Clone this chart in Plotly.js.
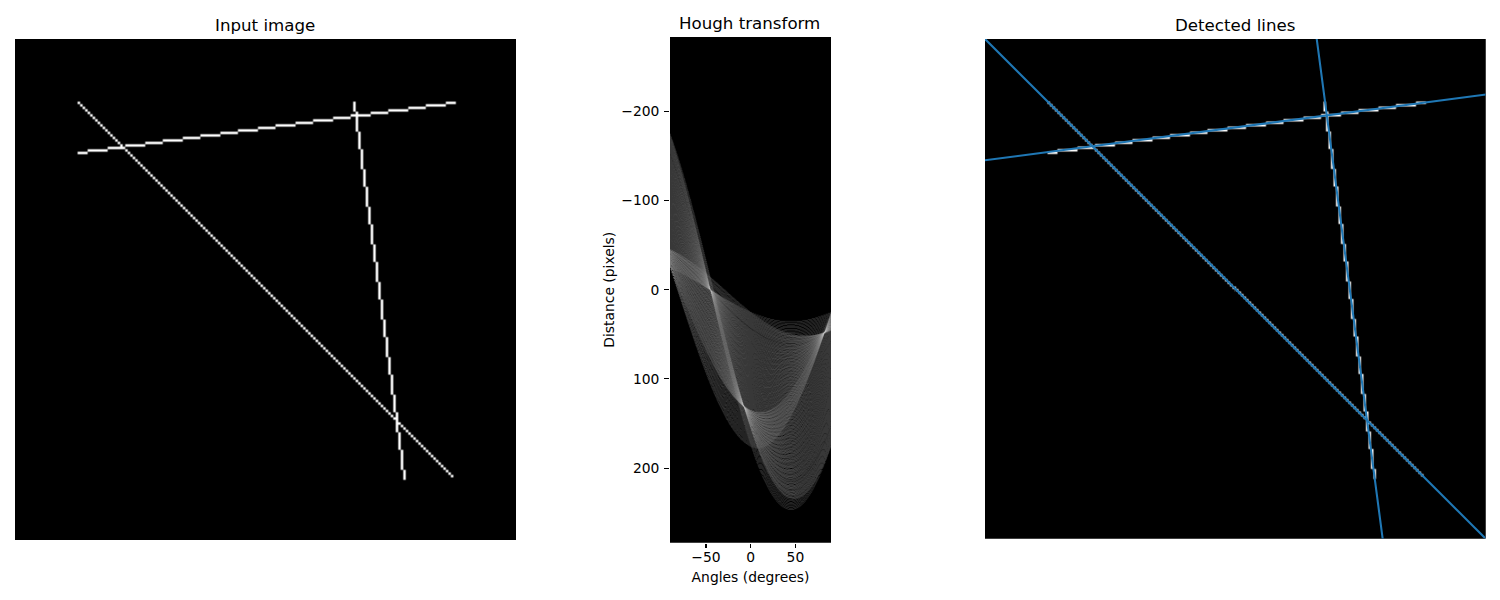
<!DOCTYPE html>
<html><head><meta charset="utf-8">
<script src="https://cdn.plot.ly/plotly-3.0.1.min.js"></script>
<style>html,body{margin:0;padding:0;background:#fff}</style></head>
<body><div id="chart" style="width:1500px;height:600px"></div>
<script>
// Values: segment endpoints of the input image (row, col)
const segR0 = [25, 45, 25];
const segC0 = [25, 25, 135];
const segR1 = [174, 25, 175];
const segC1 = [174, 175, 155];
const imageSize = 200;
// Detected lines (normal angle in degrees, distance in pixels)
const peakAngles = [-45, -7.5, 82.5];
const peakDists = [0, 131, 47.6];
const xTicks = [-50, 0, 50];
const yTicks = [-200, -100, 0, 100, 200];
const titles = ['Input image', 'Hough transform', 'Detected lines'];

// Rasterise the segments to the input image
function rasterLine(r, c, r1, c1, put) {
  let dx = Math.abs(c1 - c), dy = Math.abs(r1 - r);
  let sx = c1 > c ? 1 : -1, sy = r1 > r ? 1 : -1, steep = false;
  if (dy > dx) { steep = true; [c, r] = [r, c]; [dx, dy] = [dy, dx]; [sx, sy] = [sy, sx]; }
  let d = 2 * dy - dx;
  for (let i = 0; i < dx; i++) {
    if (steep) put(c, r); else put(r, c);
    while (d >= 0) { r += sy; d -= 2 * dx; }
    c += sx; d += 2 * dy;
  }
  put(r1, c1);
}
const img = Array.from({length: imageSize}, () => new Array(imageSize).fill(0));
segR0.forEach((_, i) => rasterLine(segR0[i], segC0[i], segR1[i], segC1[i], (r, c) => { img[r][c] = 255; }));

// The Hough panel is derived from the pixels above by the Hough transform itself
const nTheta = 360, offset = Math.ceil(Math.hypot(imageSize, imageSize)), nRho = 2 * offset + 1;
const acc = Array.from({length: nRho}, () => new Float64Array(nTheta));
const cosT = [], sinT = [];
for (let j = 0; j < nTheta; j++) { const t = (-90 + j * 0.5) * Math.PI / 180; cosT.push(Math.cos(t)); sinT.push(Math.sin(t)); }
for (let y = 0; y < imageSize; y++) for (let x = 0; x < imageSize; x++) if (img[y][x]) {
  for (let j = 0; j < nTheta; j++) acc[Math.round(cosT[j] * x + sinT[j] * y) + offset][j] += 1;
}
let logMax = 0;
const logH = acc.map(row => Array.from(row, v => { const l = Math.log(1 + v); if (l > logMax) logMax = l; return l; }));

// Hann-kernel display resampling, the way the reference's image was drawn.
// srcFrom/srcTo: source coordinates (pixel-edge based) that the output grid spans
function kernel(nOut, srcFrom, srcTo, nSrc) {
  const step = (srcTo - srcFrom) / nOut, radius = Math.max(1, step), out = [];
  for (let i = 0; i < nOut; i++) {
    const u = srcFrom + (i + 0.5) * step - 0.5;
    const idx = [], wt = [];
    let sum = 0;
    for (let j = Math.ceil(u - radius); j <= Math.floor(u + radius); j++) {
      const w = 0.5 + 0.5 * Math.cos(Math.PI * (j - u) / radius);
      if (w <= 0) continue;
      idx.push(Math.min(nSrc - 1, Math.max(0, j))); wt.push(w); sum += w;
    }
    out.push({idx, wt: wt.map(w => w / sum)});
  }
  return out;
}
function resample(z, nH, nW, rFrom, rTo, cFrom, cTo) {
  const kc = kernel(nW, cFrom, cTo, z[0].length), kr = kernel(nH, rFrom, rTo, z.length);
  const tmp = z.map(row => kc.map(k => k.idx.reduce((s, j, n) => s + row[j] * k.wt[n], 0)));
  return kr.map(k => {
    const row = new Array(nW).fill(0);
    k.idx.forEach((r, n) => { const w = k.wt[n], src = tmp[r]; for (let j = 0; j < nW; j++) row[j] += src[j] * w; });
    return row;
  });
}
const outW = 161, outH = 506;
const houghZ = resample(logH, outH, outW, 0, nRho, 0, nTheta);
const leftZ = resample(img, 501, 501, 0, imageSize, 0, imageSize);
const rightZ = resample(img, 500, 500, 0, imageSize, 0, imageSize);

const gray = [[0, '#000000'], [1, '#ffffff']];
const thetaLo = -90.25, thetaHi = 89.75, rhoLo = -offset - 0.5, rhoHi = offset + 0.5;

const traces = [
  {type: 'heatmap', z: leftZ, x0: -0.5 + 100 / 501, dx: 200 / 501, y0: -0.5 + 100 / 501, dy: 200 / 501, colorscale: gray, zmin: 0, zmax: 255, showscale: false, zsmooth: false, xaxis: 'x', yaxis: 'y', hoverinfo: 'skip'},
  {type: 'heatmap', z: houghZ, x0: thetaLo + (thetaHi - thetaLo) / outW / 2, dx: (thetaHi - thetaLo) / outW,
   y0: rhoLo + (rhoHi - rhoLo) / outH / 2, dy: (rhoHi - rhoLo) / outH, colorscale: gray, zmin: 0, zmax: logMax, showscale: false, zsmooth: false, xaxis: 'x2', yaxis: 'y2', hoverinfo: 'skip'},
  {type: 'heatmap', z: rightZ, x0: -0.3, dx: 0.4, y0: -0.3, dy: 0.4, colorscale: gray, zmin: 0, zmax: 255, showscale: false, zsmooth: false, xaxis: 'x3', yaxis: 'y3', hoverinfo: 'skip'}
];
peakAngles.forEach((a, i) => {
  const t = a * Math.PI / 180, c = Math.cos(t), s = Math.sin(t);
  const xs = [-500, 700];
  traces.push({type: 'scatter', mode: 'lines', x: xs, y: xs.map(x => (peakDists[i] - x * c) / s),
    line: {color: '#1f77b4', width: 2.08}, xaxis: 'x3', yaxis: 'y3', hoverinfo: 'skip', showlegend: false});
});

const W = 1500, H = 600;
const domX = (a, b) => [a / W, b / W];
const domY = (top, bottom) => [1 - bottom / H, 1 - top / H];
const hidden = {visible: false, showgrid: false, zeroline: false};
const tf = {family: 'DejaVu Sans', size: 13.89, color: '#000'};
const titleAnn = (text, cx, cy) => ({text, x: cx / W, y: 1 - cy / H, xref: 'paper', yref: 'paper', xanchor: 'center', yanchor: 'middle', showarrow: false, font: {family: 'DejaVu Sans', size: 16.67, color: '#000'}});
const layout = {
  width: W, height: H, margin: {l: 0, r: 0, t: 0, b: 0}, paper_bgcolor: '#fff', plot_bgcolor: '#000', showlegend: false,
  xaxis: Object.assign({domain: domX(15, 516), range: [-0.5, 199.5]}, hidden),
  yaxis: Object.assign({domain: domY(39, 540), range: [199.5, -0.5]}, hidden),
  xaxis2: {domain: domX(670, 831), range: [thetaLo, thetaHi], tickmode: 'array', tickvals: xTicks, ticks: 'outside', ticklen: 4.86, tickwidth: 1.11, tickcolor: '#000', tickfont: tf, ticklabelstandoff: -3, showgrid: false, zeroline: false, showline: false, anchor: 'y2', automargin: false,
    title: {text: 'Angles (degrees)', font: tf, standoff: 8}},
  yaxis2: {domain: domY(37, 542.5), range: [rhoHi, rhoLo], tickmode: 'array', tickvals: yTicks, ticks: 'outside', ticklen: 4.86, tickwidth: 1.11, tickcolor: '#000', tickfont: tf, ticklabelstandoff: 2, showgrid: false, zeroline: false, showline: false, anchor: 'x2', automargin: false,
    title: {text: 'Distance (pixels)', font: tf, standoff: 3}},
  xaxis3: Object.assign({domain: domX(985, 1485.5), range: [-0.5, 199.5]}, hidden),
  yaxis3: Object.assign({domain: domY(39, 538.5), range: [199.5, -0.5]}, hidden),
  annotations: [titleAnn(titles[0], 265, 25.5), titleAnn(titles[1], 749.5, 23.5), titleAnn(titles[2], 1235, 25.5)]
};
Plotly.newPlot('chart', traces, layout, {displayModeBar: false, staticPlot: true});
</script></body></html>
